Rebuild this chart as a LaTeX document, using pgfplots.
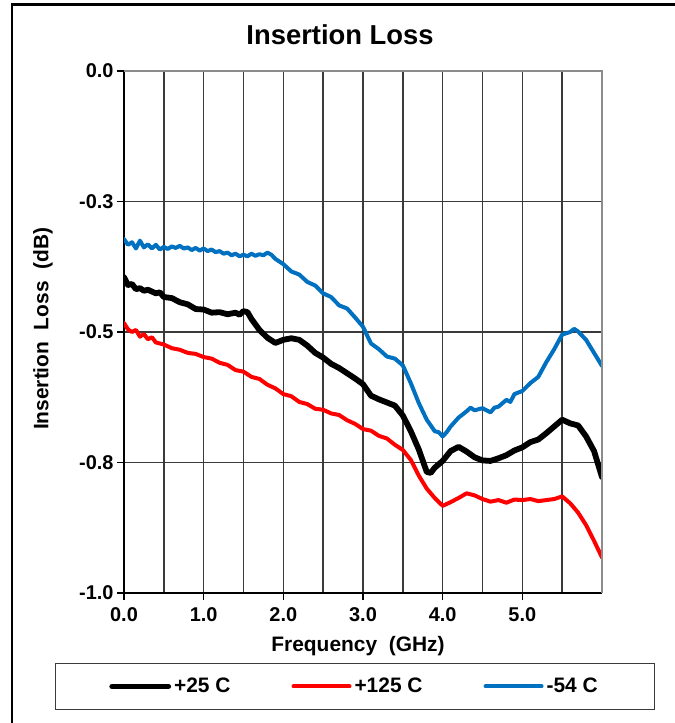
\documentclass[border=0pt]{standalone}
\usepackage{pgfplots}
\pgfplotsset{compat=1.18}
\usepackage{fontspec}
\setmainfont{Liberation Sans}
\definecolor{cblue}{HTML}{0070C0}
\definecolor{cred}{HTML}{FF0000}
\definecolor{gridc}{HTML}{3A3A3A}
\definecolor{framec}{HTML}{8C8C8C}
\begin{document}
\begin{tikzpicture}
\useasboundingbox (0,0) rectangle (675bp,723bp);
\draw[line width=2.5bp, black] (12bp,-2bp) -- (12bp,718.5bp) -- (677bp,718.5bp);
\begin{axis}[
  at={(124bp,130bp)}, anchor=south west,
  scale only axis, width=478bp, height=522bp,
  xmin=0, xmax=6, ymin=-1, ymax=0,
  axis x line*=bottom, axis y line*=left,
  axis line style={-, black, line width=1.6bp},
  xtick={0,1,2,3,4,5}, xticklabels={0.0,1.0,2.0,3.0,4.0,5.0},
  minor xtick={0.5,1.5,2.5,3.5,4.5,5.5},
  ytick={0,-0.25,-0.5,-0.75,-1}, yticklabels={0.0,-0.3,-0.5,-0.8,-1.0},
  tick align=outside, major tick length=7bp, minor tick length=0pt,
  every tick/.style={black, line width=1.6bp},
  grid=both,
  major grid style={gridc, line width=1.6bp},
  minor grid style={gridc, line width=1.6bp},
  ticklabel style={font=\fontsize{20}{24}\selectfont\bfseries},
  xticklabel style={yshift=-4bp},
  xlabel={Frequency\ \ (GHz)},
  xlabel style={font=\fontsize{21}{25}\selectfont\bfseries, at={(axis description cs:0.4895,-0.113)}, anchor=base},
  ylabel={Insertion\ \ Loss\ \ (dB)},
  ylabel style={font=\fontsize{21}{25}\selectfont\bfseries, at={(axis description cs:-0.1695,0.506)}, anchor=center},
  title={Insertion Loss},
  title style={font=\fontsize{27.5}{32}\selectfont\bfseries, at={(axis description cs:0.452,1.0402)}, anchor=base},
  legend style={at={(axis description cs:0.4833,-0.179)}, anchor=center, draw=gridc, line width=1.2bp,
    font=\fontsize{21}{25}\selectfont\bfseries, inner xsep=54bp, inner ysep=12bp,
    nodes={inner sep=3bp}, /tikz/every even column/.append style={column sep=58bp}},
  legend columns=3,
  legend image code/.code={\draw[#1, line cap=round] (0bp,0bp) -- (56bp,0bp);},
  after end axis/.code={\draw[framec, line width=2.6bp] (rel axis cs:0,1) -- (rel axis cs:1,1) -- (rel axis cs:1,0);},
]
\addplot[black, line width=5.8bp, line join=round, line cap=round] coordinates {
(0.00,-0.395) (0.05,-0.410) (0.10,-0.408) (0.15,-0.418) (0.20,-0.416) (0.25,-0.421) (0.30,-0.419)
(0.40,-0.426) (0.45,-0.424) (0.50,-0.433) (0.60,-0.435) (0.70,-0.443) (0.80,-0.447) (0.90,-0.456)
(1.00,-0.457) (1.10,-0.463) (1.20,-0.462) (1.30,-0.466) (1.40,-0.463) (1.45,-0.467)
(1.50,-0.460) (1.55,-0.462) (1.60,-0.475) (1.70,-0.496) (1.80,-0.511) (1.90,-0.521)
(2.00,-0.515) (2.10,-0.512) (2.20,-0.515) (2.30,-0.526) (2.40,-0.540) (2.50,-0.549)
(2.60,-0.561) (2.70,-0.569) (2.80,-0.579) (2.90,-0.589) (3.00,-0.600) (3.10,-0.622)
(3.20,-0.629) (3.30,-0.635) (3.40,-0.641) (3.50,-0.660) (3.60,-0.690) (3.70,-0.725)
(3.80,-0.768) (3.85,-0.770) (3.90,-0.760) (4.00,-0.747) (4.10,-0.728) (4.20,-0.720)
(4.30,-0.729) (4.40,-0.740) (4.50,-0.746) (4.60,-0.747) (4.70,-0.742) (4.80,-0.736)
(4.90,-0.727) (5.00,-0.721) (5.10,-0.711) (5.20,-0.706) (5.30,-0.694) (5.40,-0.681)
(5.50,-0.668) (5.60,-0.675) (5.70,-0.679) (5.80,-0.700) (5.90,-0.728) (6.00,-0.778)
};
\addlegendentry{+25 C}
\addplot[cred, line width=4bp, line join=round, line cap=round] coordinates {
(0.00,-0.483) (0.05,-0.495) (0.10,-0.500) (0.15,-0.496) (0.20,-0.509) (0.25,-0.504)
(0.30,-0.514) (0.35,-0.510) (0.40,-0.520) (0.50,-0.524) (0.60,-0.531) (0.70,-0.534)
(0.80,-0.540) (0.90,-0.542) (1.00,-0.548) (1.10,-0.551) (1.20,-0.559) (1.30,-0.563)
(1.40,-0.573) (1.50,-0.576) (1.60,-0.586) (1.70,-0.590) (1.80,-0.601) (1.90,-0.608)
(2.00,-0.619) (2.10,-0.623) (2.20,-0.634) (2.30,-0.638) (2.40,-0.647) (2.50,-0.649)
(2.60,-0.656) (2.70,-0.659) (2.80,-0.669) (2.90,-0.676) (3.00,-0.686) (3.10,-0.689)
(3.20,-0.699) (3.30,-0.704) (3.40,-0.716) (3.50,-0.726) (3.60,-0.745) (3.70,-0.775)
(3.80,-0.800) (3.90,-0.818) (4.00,-0.833) (4.10,-0.826) (4.20,-0.818) (4.30,-0.809)
(4.40,-0.813) (4.50,-0.820) (4.60,-0.825) (4.70,-0.822) (4.80,-0.827) (4.90,-0.821)
(5.00,-0.822) (5.10,-0.820) (5.20,-0.824) (5.30,-0.822) (5.40,-0.820) (5.50,-0.815)
(5.60,-0.828) (5.70,-0.846) (5.80,-0.870) (5.90,-0.900) (6.00,-0.932)
};
\addlegendentry{+125 C}
\addplot[cblue, line width=4bp, line join=round, line cap=round] coordinates {
(0.00,-0.322) (0.05,-0.333) (0.10,-0.328) (0.15,-0.340) (0.20,-0.325) (0.25,-0.338)
(0.30,-0.332) (0.35,-0.340) (0.40,-0.333) (0.45,-0.342) (0.50,-0.337) (0.55,-0.341)
(0.60,-0.336) (0.65,-0.339) (0.70,-0.335) (0.75,-0.340) (0.80,-0.338) (0.85,-0.343)
(0.90,-0.339) (0.95,-0.344) (1.00,-0.340) (1.05,-0.345) (1.10,-0.342) (1.15,-0.347)
(1.20,-0.345) (1.25,-0.350) (1.30,-0.348) (1.35,-0.353) (1.40,-0.350) (1.45,-0.355)
(1.50,-0.352) (1.55,-0.355) (1.60,-0.350) (1.65,-0.354) (1.70,-0.351) (1.75,-0.353)
(1.80,-0.348) (1.85,-0.352) (1.90,-0.360) (2.00,-0.370) (2.10,-0.384) (2.20,-0.390)
(2.30,-0.404) (2.40,-0.411) (2.50,-0.426) (2.60,-0.433) (2.70,-0.449) (2.80,-0.455)
(2.90,-0.472) (3.00,-0.490) (3.10,-0.522) (3.20,-0.533) (3.30,-0.547) (3.40,-0.551)
(3.50,-0.564) (3.60,-0.598) (3.70,-0.636) (3.80,-0.668) (3.90,-0.690) (3.95,-0.692)
(4.00,-0.700) (4.05,-0.692) (4.10,-0.681) (4.20,-0.664) (4.30,-0.652) (4.35,-0.645)
(4.40,-0.650) (4.50,-0.646) (4.60,-0.654) (4.65,-0.645) (4.70,-0.643) (4.80,-0.630)
(4.85,-0.634) (4.90,-0.619) (5.00,-0.613) (5.10,-0.598) (5.20,-0.586) (5.30,-0.558)
(5.40,-0.533) (5.50,-0.505) (5.60,-0.500) (5.65,-0.494) (5.70,-0.499) (5.80,-0.515)
(5.90,-0.540) (6.00,-0.565)
};
\addlegendentry{-54 C}
\end{axis}
\end{tikzpicture}
\end{document}
